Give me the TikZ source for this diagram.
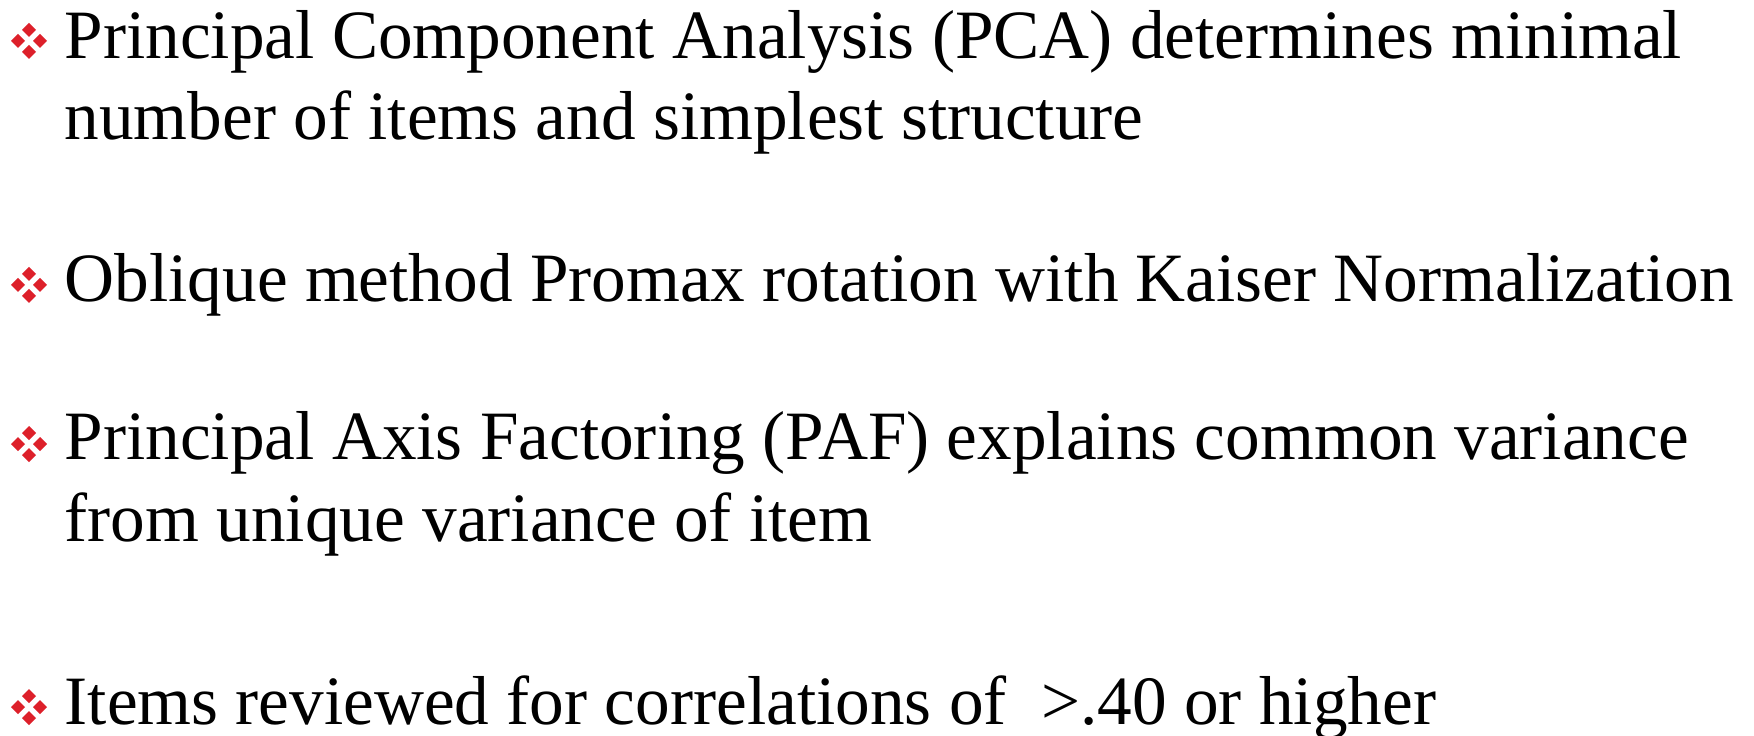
\documentclass[tikz,border=0pt]{standalone}
\usepackage{fontspec}
\setmainfont{Liberation Serif}
\definecolor{bulletred}{RGB}{221,32,42}
\tikzset{
  diamondbullet/.pic={
    \foreach \dx/\dy in {0/-1,-1/0,1/0,0/1}
      \fill[bulletred] (\dx*11,\dy*11) +(0,-7) -- +(7,0) -- +(0,7) -- +(-7,0) -- cycle;
  },
  itemtext/.style={anchor=base west, inner sep=0pt, align=left,
    font=\fontsize{19.7}{23.3}\selectfont}
}
\begin{document}
\begin{tikzpicture}[x=0.1mm,y=-0.1mm]
\useasboundingbox (0,0) rectangle (1754,736);
\node[itemtext] (item1) at (64,140) {Principal Component Analysis (PCA) determines minimal\\number of items and simplest structure};
\node[itemtext] (item2) at (64,302) {Oblique method Promax rotation with Kaiser Normalization};
\node[itemtext] (item3) at (64,541) {Principal Axis Factoring (PAF) explains common variance\\from unique variance of item};
\node[itemtext] (item4) at (64,724) {Items reviewed for correlations of\ \ >.40 or higher};
\pic at (29,41) {diamondbullet};
\pic at (29,285) {diamondbullet};
\pic at (29,444) {diamondbullet};
\pic at (29,707) {diamondbullet};
\end{tikzpicture}
\end{document}
